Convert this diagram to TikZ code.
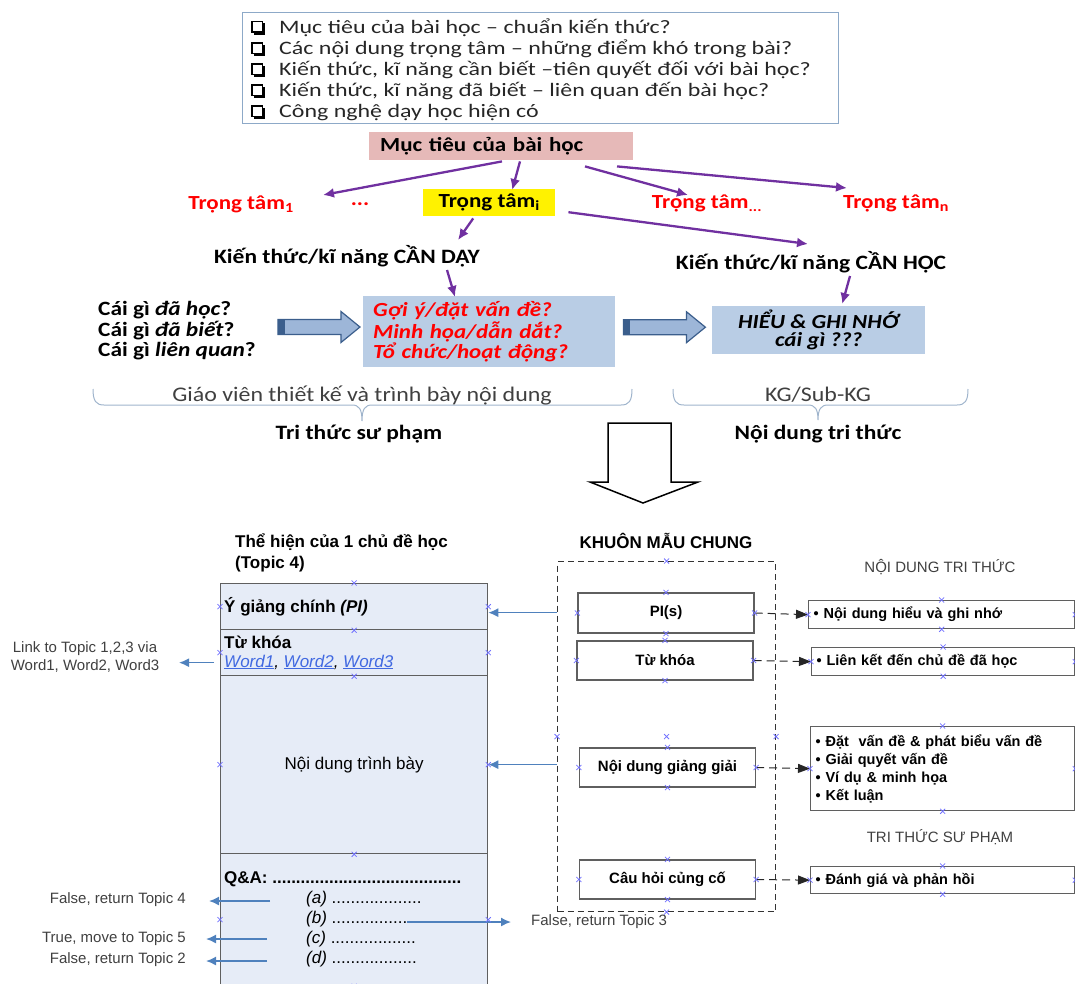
\documentclass[tikz,border=0pt]{standalone}
\usepackage{fontspec}
\setmainfont[FakeStretch=1.15]{Carlito}
\newfontfamily\calq[FakeStretch=1.26]{Carlito}
\newfontfamily\arial{Liberation Sans}
\usetikzlibrary{arrows.meta,calc}
\definecolor{purp}{HTML}{7030A0}
\definecolor{pinkbox}{HTML}{E6B9B8}
\definecolor{steelbox}{HTML}{B9CDE5}
\definecolor{qframe}{HTML}{8DA9C8}
\definecolor{bracec}{HTML}{9FB4CC}
\definecolor{txtgray}{HTML}{404040}
\definecolor{topicfill}{HTML}{E6ECF7}
\definecolor{boxline}{HTML}{5F5F5F}
\definecolor{linkarrow}{HTML}{4F81BD}
\definecolor{wordblue}{HTML}{4169E1}
\definecolor{cpblue}{HTML}{7272FF}
\definecolor{arrline}{HTML}{3B5E8C}
\definecolor{arrlight}{HTML}{9DB6D8}
\newcommand\fz[2]{\fontsize{#1}{#2}\selectfont}

\begin{document}
\begin{tikzpicture}[x=1pt,y=-1pt,
  parr/.style={draw=purp, line width=2.3pt, -{Latex[length=11pt,width=10pt]}},
  qline/.style={anchor=base west, inner sep=0pt, font=\calq\fz{19}{21}, text=black!85},
  tt/.style={font=\fz{20}{22}\bfseries, text=red, inner sep=0pt},
  kt/.style={font=\fz{20.4}{22}\bfseries, inner sep=0pt},
  barr/.style={draw=linkarrow, line width=1.5pt, -{Latex[length=10pt,width=9pt]}},
  darr/.style={draw=black!85, line width=1pt, dash pattern=on 8pt off 5pt, -{Triangle[length=12pt,width=9pt]}},
  tsec/.style={draw=boxline, line width=1.3pt, fill=topicfill, minimum width=267pt, inner sep=0pt, anchor=north west},
  ibox/.style={draw=boxline, line width=1.3pt, fill=white, minimum width=176pt, minimum height=40pt, font=\arial\fz{15}{18}\bfseries, inner sep=0pt},
  rbox/.style={draw=boxline, line width=1.3pt, anchor=north west, align=left, font=\arial\fz{14.5}{18}\bfseries, inner xsep=5pt, inner ysep=0pt},
  lbl/.style={font=\arial\fz{15}{18}, text=txtgray, inner sep=0pt},
  cpm/.style={draw=cpblue, line width=0.8pt},
  blockarr/.pic={
    \path[draw=arrline, line width=1.2pt, left color=arrlight, middle color=white!85!arrlight, right color=arrlight]
      (0,-7.5) -- (63,-7.5) -- (63,-15.5) -- (82,0) -- (63,15.5) -- (63,7.5) -- (0,7.5) -- cycle;
    \fill[arrline] (0,-7.5) rectangle (7,7.5);
  }]
\useasboundingbox (0,0) rectangle (1075,983);
\clip (0,0) rectangle (1075,983);

% ---------- checklist ----------
\node[draw=qframe, line width=0.9pt, minimum width=596pt, minimum height=111pt, anchor=north west, inner sep=0pt] (qbox) at (242,12) {};
\node[qline] (q1) at (279,33) {Mục tiêu của bài học – chuẩn kiến thức?};
\node[qline] (q2) at (279,54.5) {Các nội dung trọng tâm – những điểm khó trong bài?};
\node[qline] (q3) at (279,75.5) {Kiến thức, kĩ năng cần biết –tiên quyết đối với bài học?};
\node[qline] (q4) at (279,96.5) {Kiến thức, kĩ năng đã biết – liên quan đến bài học?};
\node[qline] (q5) at (279,117.5) {Công nghệ dạy học hiện có};
\foreach \n in {q1,q2,q3,q4,q5}{
  \draw[line width=1.1pt] ($(\n.base west)+(-27,-11.5)$) rectangle ($(\n.base west)+(-16.5,-1)$);
  \fill ($(\n.base west)+(-25.5,-1)$) rectangle ($(\n.base west)+(-14,1.5)$);
  \fill ($(\n.base west)+(-16.5,-10)$) rectangle ($(\n.base west)+(-14,1.5)$);
}

% ---------- goals and key points ----------
\node[fill=pinkbox, anchor=north west, minimum height=28pt, text width=242pt, inner xsep=11pt, inner ysep=0pt, align=left, font=\fz{20}{22}\bfseries] (goal) at (369,132) {Mục tiêu của bài học};
\node[tt] (tt1) at (241,204) {Trọng tâm\textsubscript{1}};
\node[tt] (ttdot) at (360,204) {...};
\node[fill=yellow, anchor=north west, minimum width=132pt, minimum height=27pt, inner sep=0pt, font=\fz{20}{22}\bfseries] (tti) at (423,189) {Trọng tâm\textsubscript{i}};
\node[tt] (ttm) at (707,203) {Trọng tâm\textsubscript{...}};
\node[tt] (ttn) at (896,203) {Trọng tâm\textsubscript{n}};
\node[kt] (day) at (347,256) {Kiến thức/kĩ năng CẦN DẠY};
\node[kt] (hoc) at (811,262) {Kiến thức/kĩ năng CẦN HỌC};

\draw[parr] ($(goal.south west)+(133,1)$) -- ($(tt1.center)+(82,-9)$);
\draw[parr] ($(goal.south west)+(151,1)$) -- ($(tti.north)+(23,1)$);
\draw[parr] ($(goal.south west)+(216,6)$) -- ($(ttm.center)+(-19,-8)$);
\draw[parr] ($(goal.south west)+(248,6)$) -- ($(ttn.center)+(-49,-15)$);
\draw[parr] ($(tti.south)+(-16,2)$) -- ($(day.center)+(111,-16)$);
\draw[parr] ($(tti.east)+(13,9.5)$) -- ($(hoc.center)+(-3,-18)$);

% ---------- teaching design row ----------
\node[anchor=west, align=left, font=\fz{20.3}{20.5}\bfseries, inner sep=0pt] (cai) at (98,331) {Cái gì \textit{đã học}?\\Cái gì \textit{đã biết}?\\Cái gì \textit{liên quan}?};
\node[fill=steelbox, anchor=north west, minimum height=71pt, text width=232pt, inner xsep=10pt, inner ysep=0pt, align=left, font=\fz{20}{20}\bfseries\itshape, text=red] (goi) at (363,296) {Gợi ý/đặt vấn đề?\\Minh họa/dẫn dắt?\\Tổ chức/hoạt động?};
\node[fill=steelbox, anchor=north west, minimum width=213pt, minimum height=48pt, inner sep=0pt, align=center, font=\fz{20}{18}\bfseries\itshape] (hieu) at (712,306) {HIỂU \& GHI NHỚ\\cái gì ???};

\draw[parr] ($(day.center)+(100,14)$) -- ($(goi.north west)+(92,1)$);
\draw[parr] ($(hoc.center)+(39,14)$) -- ($(hieu.north)+(23.5,-2)$);

\pic at ($(cai.east)+(22,-4)$) {blockarr};
\pic at ($(goi.east)+(8,-4.5)$) {blockarr};

% ---------- braces ----------
\draw[bracec, line width=1pt] (93,389) .. controls (93,401) and (96,405) .. (104,405) -- (352,405) .. controls (359,405) and (362,409) .. (362,421) .. controls (362,409) and (365,405) .. (372,405) -- (621,405) .. controls (629,405) and (632,401) .. (632,389);
\draw[bracec, line width=1pt] (673,389) .. controls (673,401) and (676,405) .. (684,405) -- (808,405) .. controls (815,405) and (818,409) .. (818,420) .. controls (818,409) and (821,405) .. (828,405) -- (957,405) .. controls (965,405) and (968,401) .. (968,389);
\node[font=\fz{20.8}{22}, text=txtgray, inner sep=0pt] (gv) at (362,395) {Giáo viên thiết kế và trình bày nội dung};
\node[font=\fz{20.8}{22}, text=txtgray, inner sep=0pt] (kg) at (818,395) {KG/Sub-KG};
\node[kt] (tts) at (359,434) {Tri thức sư phạm};
\node[kt] (ndt) at (818,434) {Nội dung tri thức};

% ---------- hollow down arrow ----------
\draw[line width=1.5pt, fill=white] (608,423) -- (671,423) -- (671,482) -- (698,482) -- (643,503) -- (590,482) -- (608,482) -- cycle;

% ---------- topic layout ----------
\node[anchor=west, align=left, font=\arial\fz{17}{21}\bfseries, inner sep=0pt] (title) at (235,552.5) {Thể hiện của 1 chủ đề học\\(Topic 4)};
\node[tsec, minimum height=46pt] (tbPI) at (220,583) {};
\node[tsec, minimum height=46pt] (tbKW) at (220,629) {};
\node[tsec, minimum height=178pt] (tbND) at (220,675) {};
\node[tsec, minimum height=132pt] (tbQA) at (220,853) {};
\node[anchor=west, font=\arial\fz{17}{20}\bfseries, inner sep=0pt] (pitxt) at ($(tbPI.west)+(4,0)$) {Ý giảng chính \textit{(PI)}};
\node[anchor=west, font=\arial\fz{17}{20}\bfseries, inner sep=0pt] (kwtxt) at (224,642) {Từ khóa};
\node[anchor=west, font=\arial\fz{17}{20}\itshape, inner sep=0pt] (words) at (224,662) {\textcolor{wordblue}{\underline{Word1}}, \textcolor{wordblue}{\underline{Word2}}, \textcolor{wordblue}{\underline{Word3}}};
\node[font=\arial\fz{17}{20}, inner sep=0pt] (ndtb) at (tbND.center) {Nội dung trình bày};
\node[anchor=west, font=\arial\fz{17}{20}\bfseries, inner sep=0pt] (qa) at (224,879) {Q\&A: ........................................};
\node[anchor=west, font=\arial\fz{17}{20}, inner sep=0pt] (qaa) at (306,899) {\textit{(a)} ...................};
\node[anchor=west, font=\arial\fz{17}{20}, inner sep=0pt] (qab) at (306,919) {\textit{(b)} ..................};
\node[anchor=west, font=\arial\fz{17}{20}, inner sep=0pt] (qac) at (306,939) {\textit{(c)} ..................};
\node[anchor=west, font=\arial\fz{17}{20}, inner sep=0pt] (qad) at (306,959) {\textit{(d)} ..................};

\node[lbl, align=center] (link) at (85,657) {Link to Topic 1,2,3 via\\Word1, Word2, Word3};
\node[lbl, anchor=east] (l4) at (186,900) {False, return Topic 4};
\node[lbl, anchor=east] (l5) at (186,939) {True, move to Topic 5};
\node[lbl, anchor=east] (l2) at (186,960) {False, return Topic 2};
\node[lbl, anchor=west] (l3) at (531,922) {False, return Topic 3};

\coordinate (linkend) at ($(tbKW.west)+(-41,10)$);
\draw[barr] ($(tbKW.west)+(-6,10)$) -- (linkend);
\draw[barr] ($(qaa.west)+(-36,2)$) -- ($(l4.east)+(23,1)$);
\draw[barr] ($(qac.west)+(-39,0)$) -- ($(l5.east)+(20,0)$);
\draw[barr] ($(qad.west)+(-39,2)$) -- ($(l2.east)+(20,1)$);
\draw[barr] ($(qab.west)+(101,3)$) -- ($(l3.west)+(-20,0)$);

% ---------- common template ----------
\node[font=\arial\fz{17}{20}\bfseries, inner sep=0pt] (khuon) at (666,541) {KHUÔN MẪU CHUNG};
\node[draw=black!80, dash pattern=on 6pt off 4pt, line width=1.1pt, minimum width=218pt, minimum height=350pt, anchor=north west, inner sep=0pt] (frame) at (557,561) {};
\node[ibox] (pis) at (666,613) {PI(s)};
\node[ibox, minimum height=39pt] (kw) at (665,660.5) {Từ khóa};
\node[ibox, minimum height=39pt] (ndgg) at (667.5,767.5) {Nội dung giảng giải};
\node[ibox, minimum height=39pt] (chcc) at (667.5,879.5) {Câu hỏi củng cố};

\draw[barr, line width=1.2pt] ($(frame.west |- tbPI.east)+(0,6)$) -- ($(tbPI.east)+(0,6)$);
\draw[barr, line width=1.2pt] (frame.west |- tbND.east) -- (tbND.east);

% ---------- knowledge side ----------
\node[lbl] (ndtt) at (940,567) {NỘI DUNG TRI THỨC};
\node[lbl] (ttsp) at (940,837) {TRI THỨC SƯ PHẠM};
\node[rbox, minimum height=28pt, text width=256pt] (rb1) at (808,600) {• Nội dung hiểu và ghi nhớ};
\node[rbox, minimum height=28pt, text width=253pt] (rb2) at (811,647) {• Liên kết đến chủ đề đã học};
\node[rbox, minimum height=84pt, text width=254pt] (rb3) at (810,726) {• Đặt~ vấn đề \& phát biểu vấn đề\\• Giải quyết vấn đề\\• Ví dụ \& minh họa\\• Kết luận};
\node[rbox, minimum height=27pt, text width=254pt] (rb4) at (810,866) {• Đánh giá và phản hồi};

\draw[darr] (pis.east) -- (rb1.west);
\draw[darr] (kw.east) -- (rb2.west);
\draw[darr] (ndgg.east) -- (rb3.west);
\draw[darr] (chcc.east) -- (rb4.west);

% ---------- connection point marks ----------
\foreach \a in {tbPI.north, tbPI.west, tbPI.east, tbPI.south, tbKW.west, tbKW.east, tbKW.south,
  tbND.west, tbND.east, tbND.south, tbQA.west, tbQA.east, tbQA.south,
  frame.north, frame.west, frame.east, frame.center, frame.south,
  pis.north, pis.south, pis.west, pis.east, kw.north, kw.south, kw.west, kw.east,
  ndgg.north, ndgg.south, ndgg.west, ndgg.east, chcc.north, chcc.south, chcc.west, chcc.east,
  rb1.north, rb1.south, rb1.west, rb1.east, rb2.north, rb2.south, rb2.west, rb2.east,
  rb3.north, rb3.south, rb3.west, rb3.east, rb4.north, rb4.south, rb4.west, rb4.east}{
  \draw[cpm] (\a) +(-2.5,-2.5) -- +(2.5,2.5) (\a) +(-2.5,2.5) -- +(2.5,-2.5);
}
\end{tikzpicture}
\end{document}
